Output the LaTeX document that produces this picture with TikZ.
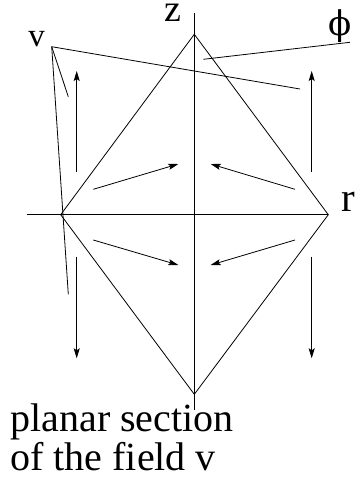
\documentclass[tikz,border=0pt]{standalone}
\usepackage{fontspec}
\setmainfont{Liberation Serif}
\newfontfamily\phifont{DejaVu Serif}
\usetikzlibrary{arrows.meta}
\begin{document}
\begin{tikzpicture}[x=1pt,y=-1pt,line width=0.8pt,
  fieldarrow/.style={-{Stealth[length=10pt,width=6pt,inset=2pt]}},
  lbl/.style={inner sep=0pt,anchor=base west}]
\useasboundingbox (0,0) rectangle (354,477);
% diamond corners
\coordinate (T) at (194.3,34.3);
\coordinate (L) at (60.7,214.7);
\coordinate (R) at (328.3,214.7);
\coordinate (B) at (194.3,394.3);
% axes
\coordinate (ztop) at (194.3,13);
\coordinate (zbot) at (194.3,410);
\coordinate (rleft) at (26.7,214.7);
\draw (ztop) -- (zbot);
\draw (rleft) -- (R);
\draw (T) -- (L) -- (B) -- (R) -- cycle;
% labels
\node[lbl,font=\fontsize{38}{38}\selectfont,text height=17pt] (zlab) at (164.5,21.7) {z};
\node[lbl,font=\fontsize{41}{41}\selectfont] (rlab) at (341.2,211.7) {r};
\node[lbl,font=\fontsize{33}{33}\selectfont] (vlab) at (28,46.7) {v};
\node[lbl,font=\phifont\fontsize{34}{34}\selectfont] (philab) at (328.5,35) {ϕ};
% v pointer lines
\coordinate (V) at (51.7,46.7);
\coordinate (v1) at (300,89);
\coordinate (v2) at (68.3,96.7);
\coordinate (v3) at (68.3,294.3);
\draw (v1) -- (V) -- (v3);
\draw (V) -- (v2);
% phi pointer line
\coordinate (p1) at (203.3,59.3);
\coordinate (p2) at (350,42.3);
\draw (p1) -- (p2);
% vertical field arrows
\coordinate (a1s) at (76.7,172.3); \coordinate (a1e) at (76.7,71);
\coordinate (a2s) at (311.7,172.3); \coordinate (a2e) at (311.7,71);
\coordinate (a3s) at (76.7,256.7); \coordinate (a3e) at (76.7,358.3);
\coordinate (a4s) at (311.7,256.7); \coordinate (a4e) at (311.7,358.3);
\draw[fieldarrow] (a1s) -- (a1e);
\draw[fieldarrow] (a2s) -- (a2e);
\draw[fieldarrow] (a3s) -- (a3e);
\draw[fieldarrow] (a4s) -- (a4e);
% diagonal field arrows
\coordinate (d1s) at (93.3,189.3); \coordinate (d1e) at (178.3,164);
\coordinate (d2s) at (295,189.3); \coordinate (d2e) at (210.7,164);
\coordinate (d3s) at (93.3,240); \coordinate (d3e) at (178.3,265);
\coordinate (d4s) at (295,240); \coordinate (d4e) at (210.7,265);
\draw[fieldarrow] (d1s) -- (d1e);
\draw[fieldarrow] (d2s) -- (d2e);
\draw[fieldarrow] (d3s) -- (d3e);
\draw[fieldarrow] (d4s) -- (d4e);
% caption
\node[lbl,font=\fontsize{40}{40}\selectfont] (cap1) at (10,431.7) {planar section};
\node[lbl,font=\fontsize{40}{40}\selectfont,text depth=0pt] (cap2) at (10,470) {of the field v};
\end{tikzpicture}
\end{document}
